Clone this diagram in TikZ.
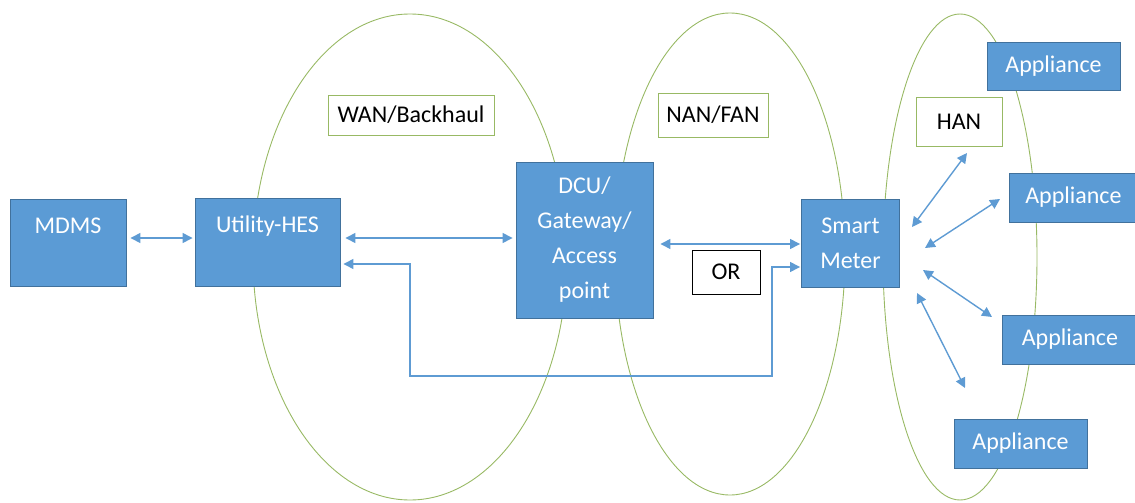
\documentclass[tikz,border=0pt]{standalone}
\usepackage{fontspec}
\setmainfont{Carlito}
\usetikzlibrary{arrows.meta}
\definecolor{boxblue}{HTML}{5B9BD5}
\definecolor{boxedge}{HTML}{41719C}
\definecolor{linkblue}{HTML}{5E9BD3}
\definecolor{zonegreen}{HTML}{98B964}
\tikzset{
  device/.style={draw=boxedge, line width=0.9pt, fill=boxblue, text=white,
    inner sep=0pt, align=center, font=\fontsize{24}{35}\selectfont},
  tag/.style={draw=zonegreen, line width=0.9pt, fill=white, text=black,
    inner sep=0pt, align=center, font=\fontsize{24}{35}\selectfont},
  zone/.style={draw=zonegreen, line width=0.9pt},
  link/.style={draw=linkblue, line width=1.4pt,
    {Triangle[length=10pt,width=10pt]}-{Triangle[length=10pt,width=10pt]}},
}
\begin{document}
\begin{tikzpicture}[x=1pt, y=-1pt]
\useasboundingbox (0,0) rectangle (1135,503);

% network zones
\draw[zone] (410,257) ellipse [x radius=157, y radius=243];
\draw[zone] (730,254) ellipse [x radius=115, y radius=241];
\draw[zone] (960,257) ellipse [x radius=77, y radius=243];

% zone labels
\node[tag, minimum width=166, minimum height=40] (wan) at (411,115) {WAN/Backhaul};
\node[tag, minimum width=110, minimum height=44] (nan) at (713,115) {NAN/FAN};
\node[tag, minimum width=86, minimum height=49] (han) at (959,122) {HAN};
\node[draw=black, line width=0.9pt, fill=white, inner sep=0pt,
  minimum width=68, minimum height=44, font=\fontsize{24}{35}\selectfont] (or) at (726,272) {OR};

% devices
\node[device, minimum width=116, minimum height=87] (mdms) at (68,243) {MDMS\\~};
\node[device, minimum width=145, minimum height=88] (hes) at (267.5,242) {Utility-HES\\~};
\node[device, minimum width=137, minimum height=156] (dcu) at (584.5,240) {DCU/\\Gateway/\\Access\\point};
\node[device, minimum width=98, minimum height=88] (sm) at (850.5,243) {Smart\\Meter};
\node[device, minimum width=133, minimum height=48] (a1) at (1053.5,66) {Appliance};
\node[device, minimum width=128, minimum height=49, anchor=west] (a2) at (1009,197.5) {Appliance};
\node[device, minimum width=135, minimum height=49, anchor=west] (a3) at (1002,339.5) {Appliance};
\node[device, minimum width=133, minimum height=49] (a4) at (1020.5,443.5) {Appliance};

% backbone links
\draw[link] ([xshift=4pt]mdms.east |- 0,238) -- ([xshift=-2pt]hes.west |- 0,238);
\draw[link] ([xshift=5pt]hes.east |- 0,238) -- ([xshift=-3pt]dcu.west |- 0,238);
\draw[link] ([xshift=7pt]dcu.east |- 0,244) -- ([xshift=-1pt]sm.west |- 0,244);

% direct route from the meter to the head-end
\coordinate (bypassL) at (410,376);
\coordinate (bypassR) at (772,376);
\draw[link] ([xshift=3pt]hes.east |- 0,264) -| (bypassL) -- (bypassR) |- ([xshift=-1pt]sm.west |- 0,267);

% home area links
\coordinate (hanA) at (912,227);
\coordinate (hanB) at (967,153);
\coordinate (ap2A) at (925,248);
\coordinate (ap2B) at (1000,199);
\coordinate (ap3A) at (923,270);
\coordinate (ap3B) at (992,317);
\coordinate (ap4A) at (917,293);
\coordinate (ap4B) at (965,388);
\draw[link] (hanA) -- (hanB);
\draw[link] (ap2A) -- (ap2B);
\draw[link] (ap3A) -- (ap3B);
\draw[link] (ap4A) -- (ap4B);
\end{tikzpicture}
\end{document}
